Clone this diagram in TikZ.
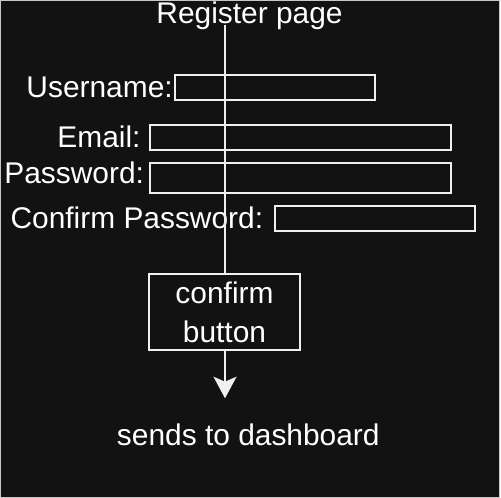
\documentclass[tikz,border=0pt]{standalone}
\usepackage{fontspec}
\setmainfont{Liberation Sans}
\usetikzlibrary{arrows.meta}
\definecolor{bgdark}{HTML}{121212}
\definecolor{fg}{HTML}{F0F0F0}
\definecolor{edgegray}{HTML}{C8C8C8}
\begin{document}
\begin{tikzpicture}[x=1pt,y=-1pt,
  lbl/.style={inner sep=0pt,outer sep=0pt,text=white,font=\fontsize{29.9}{36}\selectfont},
  field/.style={draw=fg,line width=2pt,inner sep=0pt,outer sep=0pt},
  btn/.style={draw=fg,line width=2pt,fill=bgdark,inner sep=0pt,outer sep=0pt,text=white,align=center,font=\fontsize{29.9}{38.4}\selectfont},
  conn/.style={draw=fg,line width=2pt}]
\useasboundingbox (0,0) rectangle (501,498);
\fill[white] (0,0) rectangle (501,498);
\fill[bgdark] (0,0) rectangle (499.5,498);
\draw[edgegray,line width=1pt] (0.5,0.5) rectangle (499.5,497.5);
% title
\node[lbl,anchor=base] (title) at (249.5,23.3) {Register page};
\coordinate (top) at (225,25);
% fields
\node[field,minimum width=200.5pt,minimum height=25pt,anchor=north west] (fuser) at (174.7,74.7) {};
\node[field,minimum width=300.7pt,minimum height=25.3pt,anchor=north west] (femail) at (150,125) {};
\node[field,minimum width=300.7pt,minimum height=30pt,anchor=north west] (fpass) at (150,162.7) {};
\node[field,minimum width=200.6pt,minimum height=24.7pt,anchor=north west] (fconf) at (274.7,206.3) {};
% labels
\node[lbl,anchor=base west] (luser) at (26.5,97.3) {Username:};
\node[lbl,anchor=base west] (lemail) at (57.4,147.3) {Email:};
\node[lbl,anchor=base west] (lpass) at (4.4,183.3) {Password:};
\node[lbl,anchor=base west] (lconf) at (10.6,228.9) {Confirm Password:};
% button and connectors
\coordinate (end) at (225,398.3);
\node[btn,minimum width=151.4pt,minimum height=75.7pt] (button) at (224.5,312.2) {confirm\\button};
\draw[conn] (top) -- (button.north -| top);
\draw[conn,-{Stealth[length=21.6pt,width=23pt,inset=5pt]}] (button.south -| end) -- (end);
\node[lbl,anchor=base] (dash) at (248.3,445.6) {sends to dashboard};
\end{tikzpicture}
\end{document}
